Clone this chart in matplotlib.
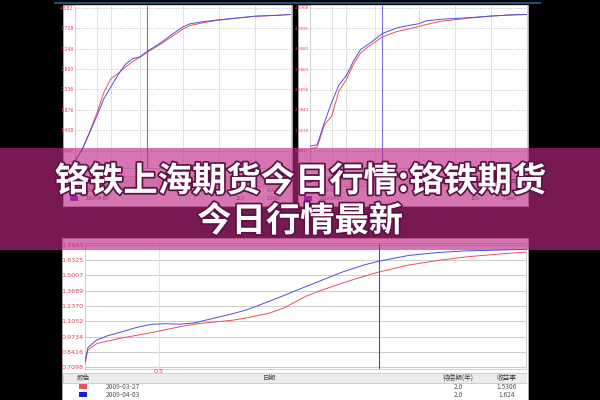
import numpy as np
import matplotlib
matplotlib.use('Agg')
import matplotlib.pyplot as plt
from matplotlib.patches import Rectangle
from matplotlib.lines import Line2D
import matplotlib.patheffects as pe

plt.rcParams['font.family'] = ['Noto Sans CJK SC', 'DejaVu Sans']

# ---- data ----
title_1 = '铬铁上海期货今日行情:铬铁期货'
title_2 = '今日行情最新'

terms_top = [0, 1, 2, 3, 4, 5, 6, 7, 8, 9, 10, 12, 14, 15, 16, 18, 20, 22, 25, 28, 30]
left_red = [0.72, 0.97, 1.36, 1.78, 2.26, 2.58, 2.70, 2.84, 2.96, 3.06, 3.17, 3.37, 3.59,
            3.70, 3.78, 3.85, 3.90, 3.94, 3.99, 4.01, 4.03]
left_blue = [0.70, 0.98, 1.34, 1.72, 2.12, 2.40, 2.67, 2.90, 3.03, 3.07, 3.19, 3.40, 3.64,
             3.75, 3.82, 3.87, 3.91, 3.94, 3.99, 4.01, 4.03]
left_ticks = ['0.947', '1.408', '1.876', '2.336', '2.800', '3.248', '3.728', '4.182']

right_red = [1.13, 1.17, 1.72, 1.93, 2.55, 2.82, 3.20, 3.48, 3.63, 3.75, 3.88, 4.01, 4.09,
             4.13, 4.18, 4.26, 4.30, 4.34, 4.39, 4.42, 4.43]
right_blue = [1.19, 1.23, 1.78, 2.27, 2.70, 2.92, 3.28, 3.57, 3.69, 3.82, 3.96, 4.10, 4.17,
              4.20, 4.27, 4.31, 4.33, 4.35, 4.39, 4.42, 4.43]
right_ticks = ['1.0817', '1.5830', '2.0843', '2.5856', '3.0869', '3.5882', '4.0895', '4.5908']
top_grid_x = [3, 5, 9, 15, 20, 25]
top_mark = 10

terms_bot = [0, 0.02, 0.08, 0.15, 0.25, 0.35, 0.45, 0.55, 0.65, 0.75, 0.9, 1.0, 1.1, 1.25,
             1.35, 1.5, 1.6, 1.75, 1.9, 2.0, 2.2, 2.4, 2.6, 2.8, 3.0]
bot_red = [0.744, 0.86, 0.914, 0.935, 0.962, 0.985, 1.008, 1.035, 1.060, 1.083, 1.102, 1.115,
           1.135, 1.175, 1.22, 1.32, 1.37, 1.435, 1.495, 1.531, 1.590, 1.630, 1.662, 1.684, 1.703]
bot_blue = [0.758, 0.88, 0.945, 0.98, 1.015, 1.053, 1.080, 1.085, 1.081, 1.094, 1.140, 1.170,
            1.205, 1.277, 1.327, 1.404, 1.454, 1.530, 1.592, 1.624, 1.673, 1.699, 1.713, 1.719, 1.726]
bot_ticks = ['0.7098', '0.8416', '0.9734', '1.1052', '1.2370', '1.3689', '1.5007', '1.6325', '1.7643']
bot_mark = 2.0

dates = ['2009-03-27', '2009-04-03']
top_left_yield = ['3.1690', '3.1905']
top_right_yield = ['3.8842', '3.9866']
bot_yield = ['1.5306', '1.624']

RED = '#e8505a'
BLUE = '#4f4fe0'

W, H = 600, 400
fig = plt.figure(figsize=(6, 4), dpi=100, facecolor='black')


def box(x0, y0, x1, y1):
    return [x0 / W, 1 - y1 / H, (x1 - x0) / W, (y1 - y0) / H]


def white(x0, y0, x1, y1):
    fig.add_artist(Rectangle((x0 / W, 1 - y1 / H), (x1 - x0) / W, (y1 - y0) / H,
                             transform=fig.transFigure, facecolor='white',
                             edgecolor='#b0b0b0', lw=0.6, zorder=0))


def curve_axes(rect, xs, red, blue, ticks, ylim, xlim, grid_x, mark, fs, dashed):
    ax = fig.add_axes(rect)
    ax.set_facecolor('white')
    ax.plot(xs, red, color=RED, lw=0.7, zorder=3)
    ax.plot(xs, blue, color=BLUE, lw=0.7, zorder=3)
    ax.set_xlim(xlim)
    ax.set_ylim(ylim)
    tv = [float(t) for t in ticks]
    ax.set_yticks(tv)
    ax.set_yticklabels(ticks, fontsize=fs, color='#e04050', family='DejaVu Sans')
    ax.tick_params(axis='y', length=0, pad=1)
    ax.set_xticks([])
    for t in tv:
        ax.axhline(t, color='#b8b8b8', lw=0.5, ls=(0, (2, 2)) if dashed else '-', zorder=1)
    for g in grid_x:
        ax.axvline(g, color='#dcdcdc', lw=0.6, zorder=1)
    ax.axvline(mark, color='#7a6ee0', lw=0.8, zorder=2)
    for s in ax.spines.values():
        s.set_color('#c8c8c8')
        s.set_linewidth(0.6)
    return ax


def table(x0, y0, x1, y1, cols, date_x, rows, fs):
    ax = fig.add_axes(box(x0, y0, x1, y1))
    ax.set_xlim(x0, x1)
    ax.set_ylim(y1, y0)
    ax.axis('off')
    ax.add_patch(Rectangle((x0, y0), x1 - x0, 10, facecolor='#ececec', edgecolor='#c0c0c0', lw=0.5))
    for name, cx in cols:
        ax.text(cx, y0 + 5, name, fontsize=fs, ha='center', va='center', color='#444444')
    for i, (c, d, t, yv) in enumerate(rows):
        yy = y0 + 14 + 8 * i
        ax.add_patch(Rectangle((cols[0][1] - 4, yy - 2.5), 8, 5, facecolor=c, edgecolor='none'))
        ax.text(date_x, yy, d, fontsize=fs, va='center', color='#555555')
        ax.text(cols[2][1], yy, t, fontsize=fs, ha='center', va='center', color='#555555')
        ax.text(cols[3][1], yy, yv, fontsize=fs, ha='center', va='center', color='#555555')
    return ax


# top line
fig.add_artist(Line2D([55 / W, 540 / W], [1 - 3 / H] * 2, color='#1f4e79', lw=1.5,
                      transform=fig.transFigure))

# top-left panel
white(63, 5, 292, 206)
lo, hi = 0.947 - 17.3 / 20.4 * 0.4616, 0.947 + 145.7 / 20.4 * 0.4616
curve_axes(box(75, 5, 291, 168), terms_top, left_red, left_blue, left_ticks, (lo, hi),
           (0, 30), top_grid_x, top_mark, 3.3, True)
table(64, 176, 291, 206, [('颜色', 74), ('日期', 180), ('待偿期(年)', 240), ('收益率', 274)], 86,
      [(RED, dates[0], '10.0', top_left_yield[0]), ('#6a2ad0', dates[1], '10.0', top_left_yield[1])], 3.2)

# top-right panel
white(298, 5, 528, 206)
lo, hi = 1.0817 - 17.3 / 20.4 * 0.5013, 1.0817 + 145.7 / 20.4 * 0.5013
curve_axes(box(310, 5, 527, 168), terms_top, right_red, right_blue, right_ticks, (lo, hi),
           (0, 30), top_grid_x, top_mark, 3.0, True)
table(299, 176, 527, 206, [('颜色', 308), ('日期', 415), ('待偿期(年)', 475), ('收益率', 510)], 320,
      [(RED, dates[0], '10.0', top_right_yield[0]), ('#6a2ad0', dates[1], '10.0', top_right_yield[1])], 3.2)

# bottom panel
white(62, 238, 528, 402)
lo, hi = 0.7098 - 1.7 / 15.3 * 0.1318, 0.7098 + 124.3 / 15.3 * 0.1318
axb = curve_axes(box(85, 243, 526, 369), terms_bot, bot_red, bot_blue, bot_ticks, (lo, hi),
                 (0, 3.0), [0.5], bot_mark, 4.6, False)
axb.lines[-1].set_color('#4a44d8')
axb.text(0.5, lo, '0.5', fontsize=4.6, color='#e04050', ha='center', va='top',
         family='DejaVu Sans')
table(63, 373, 527, 402, [('颜色', 83), ('日期', 270), ('待偿期(年)', 458), ('收益率', 507)], 106,
      [(RED, dates[0], '2.0', bot_yield[0]), ('#2020d0', dates[1], '2.0', bot_yield[1])], 4.8)

# banner overlay
fig.add_artist(Rectangle((0, 1 - 250 / H), 1, 102 / H, transform=fig.transFigure,
                         facecolor=(0.745, 0.157, 0.52), alpha=0.64, edgecolor='none', zorder=20))
for txt, yy in [(title_1, 181), (title_2, 221)]:
    fig.text(0.5, 1 - yy / H, txt, fontsize=24.7, fontweight='heavy', color='white',
             ha='center', va='center', zorder=21,
             path_effects=[pe.withStroke(linewidth=2.5, foreground='#5c1242')])

fig.savefig('out.png', dpi=100, facecolor='black')
